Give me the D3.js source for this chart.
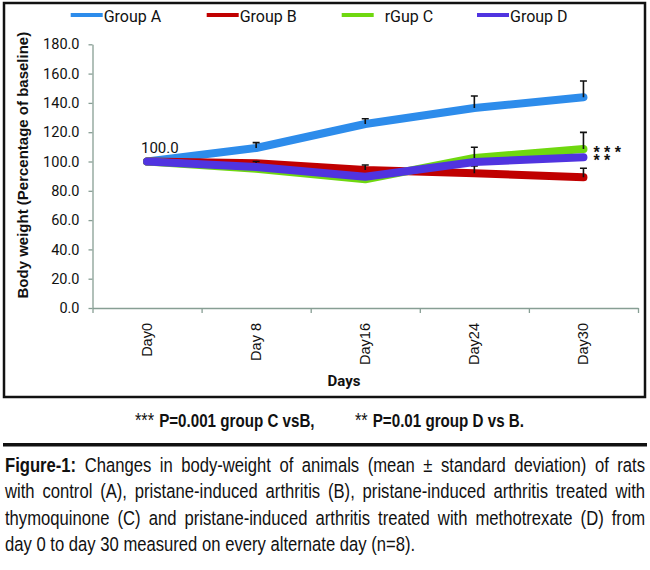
<!DOCTYPE html>
<html>
<head>
<meta charset="utf-8">
<script src="https://cdn.jsdelivr.net/npm/d3@7"></script>
<style>
  body { margin: 0; background: #fff; }
  svg { display: block; }
</style>
</head>
<body>
<div id="vis"></div>
<script>
// data
const days = ["Day0", "Day 8", "Day16", "Day24", "Day30"];
const seriesNames = ["Group A", "Group B", "rGup C", "Group D"];
const seriesColors = ["#2d8ceb", "#c00000", "#6fd80f", "#5034e0"];
const groupA = [100, 109.2, 125.6, 136.5, 143.8];
const groupB = [100, 98.8, 94.2, 92.0, 89.2];
const groupC = [100, 95.0, 87.8, 102.4, 108.5];
const groupD = [100, 96.2, 89.6, 99.7, 102.9];
const errA = [0, 3.7, 3.6, 8.2, 11.2];
const errB = [0, 1.2, 3.4, 5.0, 6.2];
const errC = [0, 0, 0, 7.3, 11.4];
const errD = [0, 0, 0, 0, 0];
const yTicks = [0, 20, 40, 60, 80, 100, 120, 140, 160, 180];
const yTitle = "Body weight (Percentage of baseline)";
const xTitle = "Days";
const sigMarks = ["* * *", "* *"];
const sigNote = [["***", "P=0.001 group C vsB,"], ["**", "P=0.01 group D vs B."]];
const captionLines = [
    "Figure-1: Changes in body-weight of animals (mean \u00b1 standard deviation) of rats",
    "with control (A), pristane-induced arthritis (B), pristane-induced arthritis treated with",
    "thymoquinone (C) and pristane-induced arthritis treated with methotrexate (D) from",
    "day 0 to day 30 measured on every alternate day (n=8)."
];

const series = [groupA, groupB, groupC, groupD].map((v, i) => ({
    name: seriesNames[i], color: seriesColors[i], values: v, errs: [errA, errB, errC, errD][i]
}));

const W = 650, H = 570;
const plot = { left: 92.5, right: 638, top: 44.3, bottom: 308 };
const axisColor = "#879e94";
const SANS = "Liberation Sans, Arial, sans-serif";
const NARROW = 0.82;   // no condensed face installed, so squeeze Liberation Sans

const svg = d3.select("#vis").append("svg")
    .attr("width", W)
    .attr("height", H);

svg.append("rect").attr("width", W).attr("height", H).attr("fill", "#fff");

// squeezed text, returns its drawn width
function narrowText(parent, px, py, size, weight, str) {
    var g = parent.append("g")
        .attr("transform", "translate(" + px + "," + py + ") scale(" + NARROW + ",1)");
    var t = g.append("text")
        .attr("font-family", SANS)
        .attr("font-size", size)
        .attr("font-weight", weight)
        .attr("fill", "#111")
        .text(str);
    return { g: g, t: t, w: t.node().getComputedTextLength() * NARROW };
}

// frame around the chart
svg.append("rect")
    .attr("x", 4).attr("y", 3)
    .attr("width", 641).attr("height", 394)
    .attr("fill", "none").attr("stroke", "#111").attr("stroke-width", 2.5);

var x = d3.scaleBand().domain(days).range([plot.left, plot.right]);
var xEdge = d3.scaleLinear().domain([0, days.length]).range([plot.left, plot.right]);
var y = d3.scaleLinear().domain([0, 180]).range([plot.bottom, plot.top]);
const cx = d => x(d) + x.bandwidth() / 2;

// y axis
var gy = svg.append("g")
    .attr("transform", "translate(" + plot.left + ",0)")
    .call(d3.axisLeft(y).tickValues(yTicks).tickFormat(d3.format(".1f"))
        .tickSize(4).tickSizeOuter(0).tickPadding(9));
gy.selectAll("text").attr("font-family", "Roboto").attr("font-size", 14.5).attr("fill", "#111");

// x axis, ticks on the category boundaries
var gx = svg.append("g")
    .attr("transform", "translate(0," + plot.bottom + ")")
    .call(d3.axisBottom(xEdge).tickValues(d3.range(days.length + 1)).tickFormat("")
        .tickSize(5).tickSizeOuter(0));

[gx, gy].forEach(g => {
    g.select(".domain").attr("stroke", axisColor).attr("stroke-width", 1.3);
    g.selectAll(".tick line").attr("stroke", axisColor).attr("stroke-width", 1.3);
});

svg.append("g").selectAll("text")
    .data(days)
    .enter().append("text")
    .attr("transform", d => "translate(" + (cx(d) + 4.5) + "," + (plot.bottom + 15) + ") rotate(-90)")
    .attr("text-anchor", "end")
    .attr("font-family", SANS)
    .attr("font-size", 14.5)
    .attr("fill", "#111")
    .text(d => d);

// axis titles
svg.append("text")
    .attr("transform", "translate(28," + ((plot.top + plot.bottom) / 2 - 11) + ") rotate(-90)")
    .attr("text-anchor", "middle")
    .attr("font-family", SANS)
    .attr("font-weight", "bold")
    .attr("font-size", 15)
    .attr("fill", "#111")
    .text(yTitle);

svg.append("text")
    .attr("x", 344).attr("y", 386)
    .attr("text-anchor", "middle")
    .attr("font-family", "Roboto")
    .attr("font-weight", "bold")
    .attr("font-size", 15)
    .attr("fill", "#111")
    .text(xTitle);

// series: line then its error bars, in legend order
var line = d3.line()
    .x((d, i) => cx(days[i]))
    .y(d => y(d));

series.forEach(s => {
    var g = svg.append("g");
    g.append("path")
        .datum(s.values)
        .attr("fill", "none")
        .attr("stroke", s.color)
        .attr("stroke-width", 8)
        .attr("stroke-linecap", "round")
        .attr("stroke-linejoin", "round")
        .attr("d", line);

    var bars = s.values.map((v, i) => ({ day: days[i], v: v, e: s.errs[i] })).filter(d => d.e > 0);
    g.selectAll(".eb")
        .data(bars)
        .enter().append("path")
        .attr("fill", "none")
        .attr("stroke", "#111")
        .attr("stroke-width", 1.6)
        .attr("d", d => {
            var px = cx(d.day), y0 = y(d.v), y1 = y(d.v + d.e);
            return "M" + px + "," + y0 + "V" + y1 + "M" + (px - 3.5) + "," + y1 + "H" + (px + 3.5);
        });
});

// data label on the first point
svg.append("text")
    .attr("x", cx(days[0]) + 12.8)
    .attr("y", y(groupA[0]) - 9)
    .attr("text-anchor", "middle")
    .attr("font-family", "Roboto")
    .attr("font-size", 15)
    .attr("fill", "#111")
    .text(d3.format(".1f")(groupA[0]));

// significance stars next to the last points of C and D (one text, two rows)
var last = days.length - 1;
var stars = svg.append("text")
    .attr("font-family", SANS)
    .attr("font-weight", "bold")
    .attr("font-size", 16)
    .attr("fill", "#111");
[groupC, groupD].forEach((vals, i) => {
    stars.append("tspan")
        .attr("x", cx(days[last]) + 10)
        .attr("y", y(vals[last]) + 9)
        .text(sigMarks[i]);
});

// legend
var legendX = [70.7, 206.7, 341.7, 477];
var lg = svg.append("g").selectAll("g")
    .data(series)
    .enter().append("g")
    .attr("transform", (d, i) => "translate(" + legendX[i] + ",15)");
lg.append("line")
    .attr("x1", 0).attr("x2", 32)
    .attr("stroke", d => d.color).attr("stroke-width", 4);
lg.append("text")
    .attr("x", (d, i) => i === 2 ? 43 : 33)
    .attr("y", 6.5)
    .attr("font-family", "Roboto")
    .attr("font-size", 16)
    .attr("fill", "#111")
    .text(d => d.name);

// significance note under the chart
var noteX = [135, 355];
sigNote.forEach((parts, i) => {
    var a = narrowText(svg, noteX[i], 427, 20, "normal", parts[0]);
    narrowText(svg, noteX[i] + a.w + 5, 427, 18.5, "bold", parts[1]);
});

svg.append("line")
    .attr("x1", 3).attr("x2", 647)
    .attr("y1", 444.7).attr("y2", 444.7)
    .attr("stroke", "#111").attr("stroke-width", 3.5);

// figure caption, justified like the printed page
var capLeft = 5, capRight = 645, capTop = 471.7, capStep = 26.4, capSize = 20.3;
captionLines.forEach((str, li) => {
    var words = str.split(" ");
    var g = svg.append("g");
    var items = words.map((w, wi) =>
        narrowText(g, 0, capTop + li * capStep, capSize, li === 0 && wi === 0 ? "bold" : "normal", w));
    var total = d3.sum(items, d => d.w);
    var justify = li < captionLines.length - 1;
    var gap = justify ? (capRight - capLeft - total) / (words.length - 1) : capSize * 0.278 * NARROW;
    var pos = capLeft;
    items.forEach(it => {
        it.g.attr("transform", "translate(" + pos + "," + (capTop + li * capStep) + ") scale(" + NARROW + ",1)");
        pos += it.w + gap;
    });
});
</script>
</body>
</html>
